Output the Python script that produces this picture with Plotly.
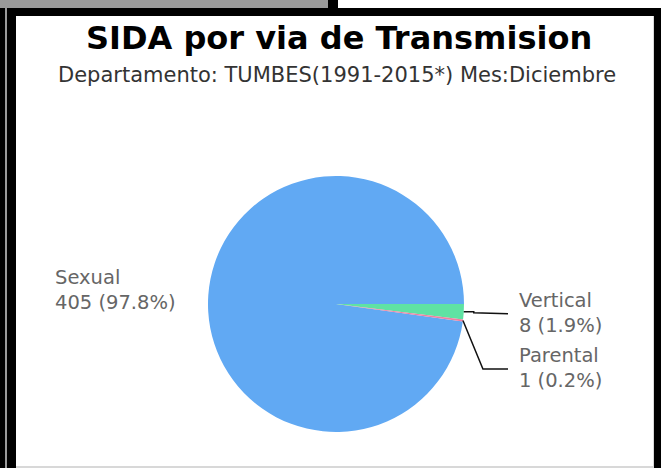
import math
import plotly.graph_objects as go

# ---- data ----
categories = ["Sexual", "Vertical", "Parental"]
cases = [405, 8, 1]
percent_labels = ["97.8%", "1.9%", "0.2%"]
colors = ["#61A9F3", "#5FE2A3", "#EE80A2"]

title_text = "SIDA por via de Transmision"
subtitle_text = "Departamento: TUMBES(1991-2015*) Mes:Diciembre"

W, H = 661, 468


def fx(px):
    return px / W


def fy(py):
    return 1 - py / H


# pie geometry (pixels)
CX, CY, R = 336, 304, 128
total = sum(cases)
start_rot = 90 + 360 * (total - cases[0]) / total  # first slice ends at 3 o'clock

fig = go.Figure()
fig.add_trace(go.Pie(
    labels=categories,
    values=cases,
    sort=False,
    direction="clockwise",
    rotation=start_rot,
    marker=dict(colors=colors, line=dict(width=0)),
    textinfo="none",
    hoverinfo="label+value+percent",
    showlegend=False,
    domain=dict(x=[fx(CX - R), fx(CX + R)], y=[fy(CY + R), fy(CY - R)]),
))

shapes = []
# frame / window decoration
shapes.append(dict(type="rect", xref="paper", yref="paper", x0=fx(0), x1=fx(328), y0=fy(0), y1=fy(8),
                   fillcolor="#9A9A9A", line=dict(width=0), layer="below"))
shapes.append(dict(type="rect", xref="paper", yref="paper", x0=fx(328), x1=fx(338), y0=fy(0), y1=fy(8),
                   fillcolor="#000000", line=dict(width=0), layer="below"))
shapes.append(dict(type="rect", xref="paper", yref="paper", x0=fx(0), x1=fx(661), y0=fy(8), y1=fy(468),
                   fillcolor="#000000", line=dict(width=0), layer="below"))
shapes.append(dict(type="rect", xref="paper", yref="paper", x0=fx(5), x1=fx(7), y0=fy(8), y1=fy(468),
                   fillcolor="#9A9A9A", line=dict(width=0), layer="below"))
shapes.append(dict(type="rect", xref="paper", yref="paper", x0=fx(16), x1=fx(654), y0=fy(16), y1=fy(468),
                   fillcolor="#D8D8D8", line=dict(width=0), layer="below"))
shapes.append(dict(type="rect", xref="paper", yref="paper", x0=fx(16), x1=fx(653), y0=fy(16), y1=fy(466),
                   fillcolor="#FFFFFF", line=dict(width=0), layer="below"))

# leader lines computed from slice mid-angles
cum = 0
mids = []
for v in cases:
    mid = start_rot + 360 * (cum + v / 2) / total
    mids.append(mid)
    cum += v


def edge_point(angle_deg):
    a = math.radians(angle_deg)
    return CX + R * math.sin(a), CY - R * math.cos(a)


label_x = 517
line_end_x = 508
for i in (1, 2):
    ex, ey = edge_point(mids[i])
    if i == 1:
        pts = [(ex, ey), (ex + 10, ey), (ex + 10, ey + 1), (line_end_x, ey + 2)]
    else:
        pts = [(ex, ey), (ex + 20, 369), (line_end_x, 369)]
    path = "M " + " L ".join(f"{fx(px)},{fy(py)}" for px, py in pts)
    shapes.append(dict(type="path", xref="paper", yref="paper", path=path,
                       line=dict(color="#111111", width=1.5)))

annotations = [
    dict(text=f"<b>{title_text}</b>", x=fx(339), y=fy(38), xref="paper", yref="paper",
         xanchor="center", yanchor="middle", showarrow=False,
         font=dict(family="DejaVu Sans", size=32, color="#000000")),
    dict(text=subtitle_text, x=fx(337), y=fy(75), xref="paper", yref="paper",
         xanchor="center", yanchor="middle", showarrow=False,
         font=dict(family="DejaVu Sans", size=21, color="#333333")),
]

# label blocks: (left x, vertical centre of the two-line block)
label_pos = {0: (53, 290), 1: (label_x, 313), 2: (label_x, 368)}
for i, name in enumerate(categories):
    x, yc = label_pos[i]
    annotations.append(dict(text=f"{name}<br>{cases[i]} ({percent_labels[i]})",
                            x=fx(x), y=fy(yc), xref="paper", yref="paper",
                            xanchor="left", yanchor="middle", align="left", showarrow=False,
                            font=dict(family="DejaVu Sans", size=19.5, color="#666666")))

fig.update_layout(
    width=W, height=H,
    margin=dict(l=0, r=0, t=0, b=0, pad=0),
    paper_bgcolor="#FFFFFF",
    plot_bgcolor="#FFFFFF",
    shapes=shapes,
    annotations=annotations,
)

fig.write_html("out.html", config={"displayModeBar": False},
               post_script="document.body.style.margin='0';document.body.style.overflow='hidden';")
